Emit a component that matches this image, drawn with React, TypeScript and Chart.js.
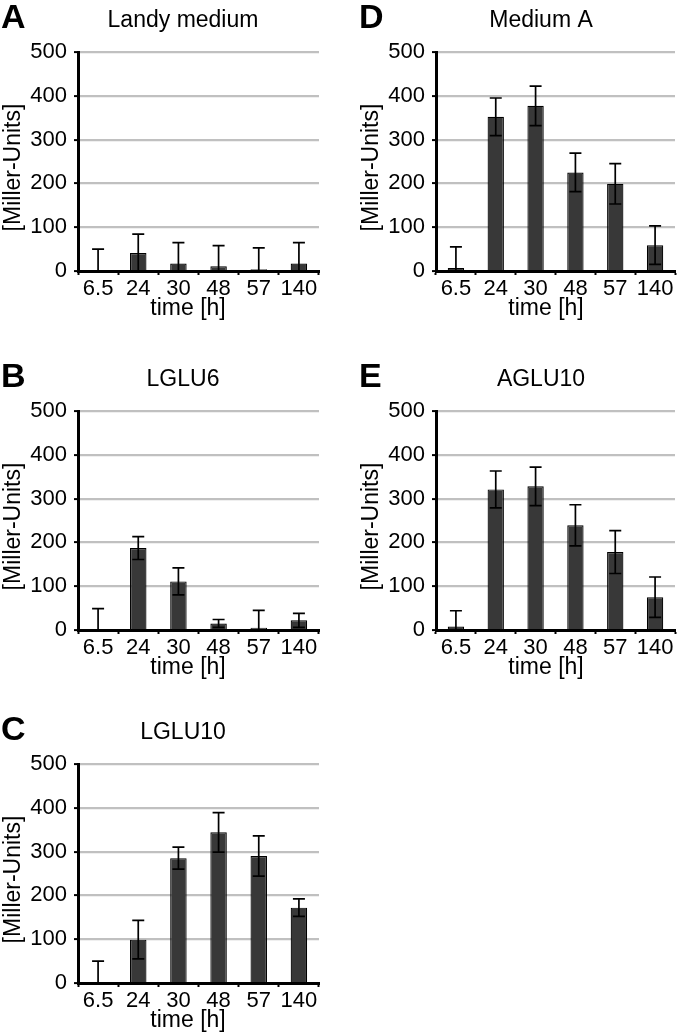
import React, { useEffect, useRef } from "react";
import { Chart, registerables } from "chart.js";

Chart.register(...registerables);

const categories = ["6.5", "24", "30", "48", "57", "140"];
const yMin = 0;
const yMax = 500;
const yStep = 100;
const xAxisTitle = "time [h]";
const yAxisTitle = "[Miller-Units]";

const landyValues = [0, 41, 17, 11, 4, 17];
const landyErrors = [50, 43, 48, 47, 49, 48];
const mediumAValues = [7, 352, 377, 225, 199, 59];
const mediumAErrors = [48, 43, 45, 44, 46, 44];
const lglu6Values = [0, 187, 111, 15, 5, 22];
const lglu6Errors = [49, 26, 31, 9, 40, 16];
const aglu10Values = [8, 321, 328, 239, 178, 75];
const aglu10Errors = [36, 42, 44, 47, 49, 46];
const lglu10Values = [0, 99, 285, 344, 290, 172];
const lglu10Errors = [50, 44, 25, 45, 46, 20];

const FONT = "'Liberation Sans', Arial, Helvetica, sans-serif";

type PanelCfg = {
  letter: string;
  title: string;
  values: number[];
  errors: number[];
  left: number;
  top: number;
  axisOffset: number;
  rightPad: number;
};

const panels: PanelCfg[] = [
  { letter: "A", title: "Landy medium", values: landyValues, errors: landyErrors, left: 0, top: 0, axisOffset: 78, rightPad: 21 },
  { letter: "D", title: "Medium A", values: mediumAValues, errors: mediumAErrors, left: 340, top: 0, axisOffset: 96, rightPad: 5 },
  { letter: "B", title: "LGLU6", values: lglu6Values, errors: lglu6Errors, left: 0, top: 359, axisOffset: 78, rightPad: 21 },
  { letter: "E", title: "AGLU10", values: aglu10Values, errors: aglu10Errors, left: 340, top: 359, axisOffset: 96, rightPad: 5 },
  { letter: "C", title: "LGLU10", values: lglu10Values, errors: lglu10Errors, left: 0, top: 712, axisOffset: 78, rightPad: 21 },
];

const CANVAS_W = 340;
const PAD_TOP = 52;
const PLOT_H = 219;
const X_SCALE_H = 50;
const CANVAS_H = PAD_TOP + PLOT_H + X_SCALE_H;

const decorPlugin = {
  id: "panelDecor",
  afterDraw(chart: any, _args: any, opts: any) {
    const { ctx, chartArea } = chart;
    ctx.save();
    ctx.fillStyle = "#000";
    ctx.font = `bold 34px ${FONT}`;
    ctx.textAlign = "left";
    ctx.textBaseline = "alphabetic";
    ctx.fillText(opts.letter, chartArea.left - 77, chartArea.top - 24);
    ctx.font = `23px ${FONT}`;
    ctx.textAlign = "center";
    ctx.fillText(opts.title, chartArea.left + 105, chartArea.top - 25);
    ctx.textBaseline = "middle";
    ctx.fillText(opts.xTitle, chartArea.left + 110, chartArea.bottom + 38);
    ctx.translate(chartArea.left - 64.5, (chartArea.top + chartArea.bottom) / 2 + 6);
    ctx.rotate(-Math.PI / 2);
    ctx.fillText(opts.yTitle, 0, 0);
    ctx.restore();
  },
};

const errorBarPlugin = {
  id: "errorBars",
  afterDatasetsDraw(chart: any, _args: any, opts: any) {
    const { ctx } = chart;
    const y = chart.scales.y;
    const meta = chart.getDatasetMeta(0);
    const values: number[] = chart.data.datasets[0].data;
    const errors: number[] = opts.errors || [];
    ctx.save();
    ctx.strokeStyle = "#000";
    ctx.lineWidth = 1.7;
    const cap = 6;
    meta.data.forEach((bar: any, i: number) => {
      const v = values[i];
      const e = errors[i] || 0;
      const x = bar.x;
      const yTop = y.getPixelForValue(v + e);
      const lowV = v - e;
      const yBot = y.getPixelForValue(Math.max(0, lowV));
      ctx.beginPath();
      ctx.moveTo(x, yBot);
      ctx.lineTo(x, yTop);
      ctx.moveTo(x - cap, yTop);
      ctx.lineTo(x + cap, yTop);
      if (lowV > 0) {
        ctx.moveTo(x - cap, yBot);
        ctx.lineTo(x + cap, yBot);
      }
      ctx.stroke();
    });
    ctx.restore();
  },
};

function Panel({ cfg }: { cfg: PanelCfg }) {
  const ref = useRef<HTMLCanvasElement | null>(null);
  useEffect(() => {
    if (!ref.current) return;
    const chart = new Chart(ref.current, {
      type: "bar",
      data: {
        labels: categories,
        datasets: [
          {
            data: cfg.values,
            backgroundColor: "#383838",
            borderColor: "#000",
            borderWidth: 1.2,
            barPercentage: 0.41,
            categoryPercentage: 1,
          },
        ],
      },
      options: {
        responsive: false,
        animation: false,
        devicePixelRatio: 1,
        layout: { padding: { top: PAD_TOP, right: cfg.rightPad, left: 0, bottom: 0 } },
        plugins: {
          legend: { display: false },
          tooltip: { enabled: false },
          title: { display: false },
          panelDecor: { letter: cfg.letter, title: cfg.title, xTitle: xAxisTitle, yTitle: yAxisTitle },
          errorBars: { errors: cfg.errors },
        } as any,
        scales: {
          x: {
            type: "category",
            offset: true,
            afterFit: (scale: any) => {
              scale.height = X_SCALE_H;
            },
            grid: {
              offset: true,
              drawOnChartArea: false,
              drawTicks: true,
              tickLength: 4,
              tickColor: "#000",
              tickWidth: 2,
            },
            border: { display: true, color: "#000", width: 3 },
            ticks: {
              color: "#000",
              font: { family: FONT, size: 22 },
              padding: 1,
              maxRotation: 0,
              autoSkip: false,
            },
          },
          y: {
            min: yMin,
            max: yMax,
            afterFit: (scale: any) => {
              scale.width = cfg.axisOffset;
            },
            grid: {
              color: "#c0c0c0",
              lineWidth: 2.2,
              drawTicks: true,
              tickLength: 4,
              tickColor: "#000",
              tickWidth: 2,
            },
            border: { display: true, color: "#000", width: 3 },
            ticks: {
              stepSize: yStep,
              color: "#000",
              font: { family: FONT, size: 22 },
              padding: 7,
            },
          },
        },
      },
      plugins: [decorPlugin, errorBarPlugin],
    } as any);
    return () => chart.destroy();
  }, [cfg]);
  return (
    <canvas
      ref={ref}
      width={CANVAS_W}
      height={CANVAS_H}
      style={{ position: "absolute", left: cfg.left, top: cfg.top, width: CANVAS_W, height: CANVAS_H }}
    />
  );
}

export default function App() {
  return (
    <div style={{ position: "absolute", left: 0, top: 0, width: 680, height: 1035, background: "#fff" }}>
      {panels.map((p) => (
        <Panel key={p.letter} cfg={p} />
      ))}
    </div>
  );
}
